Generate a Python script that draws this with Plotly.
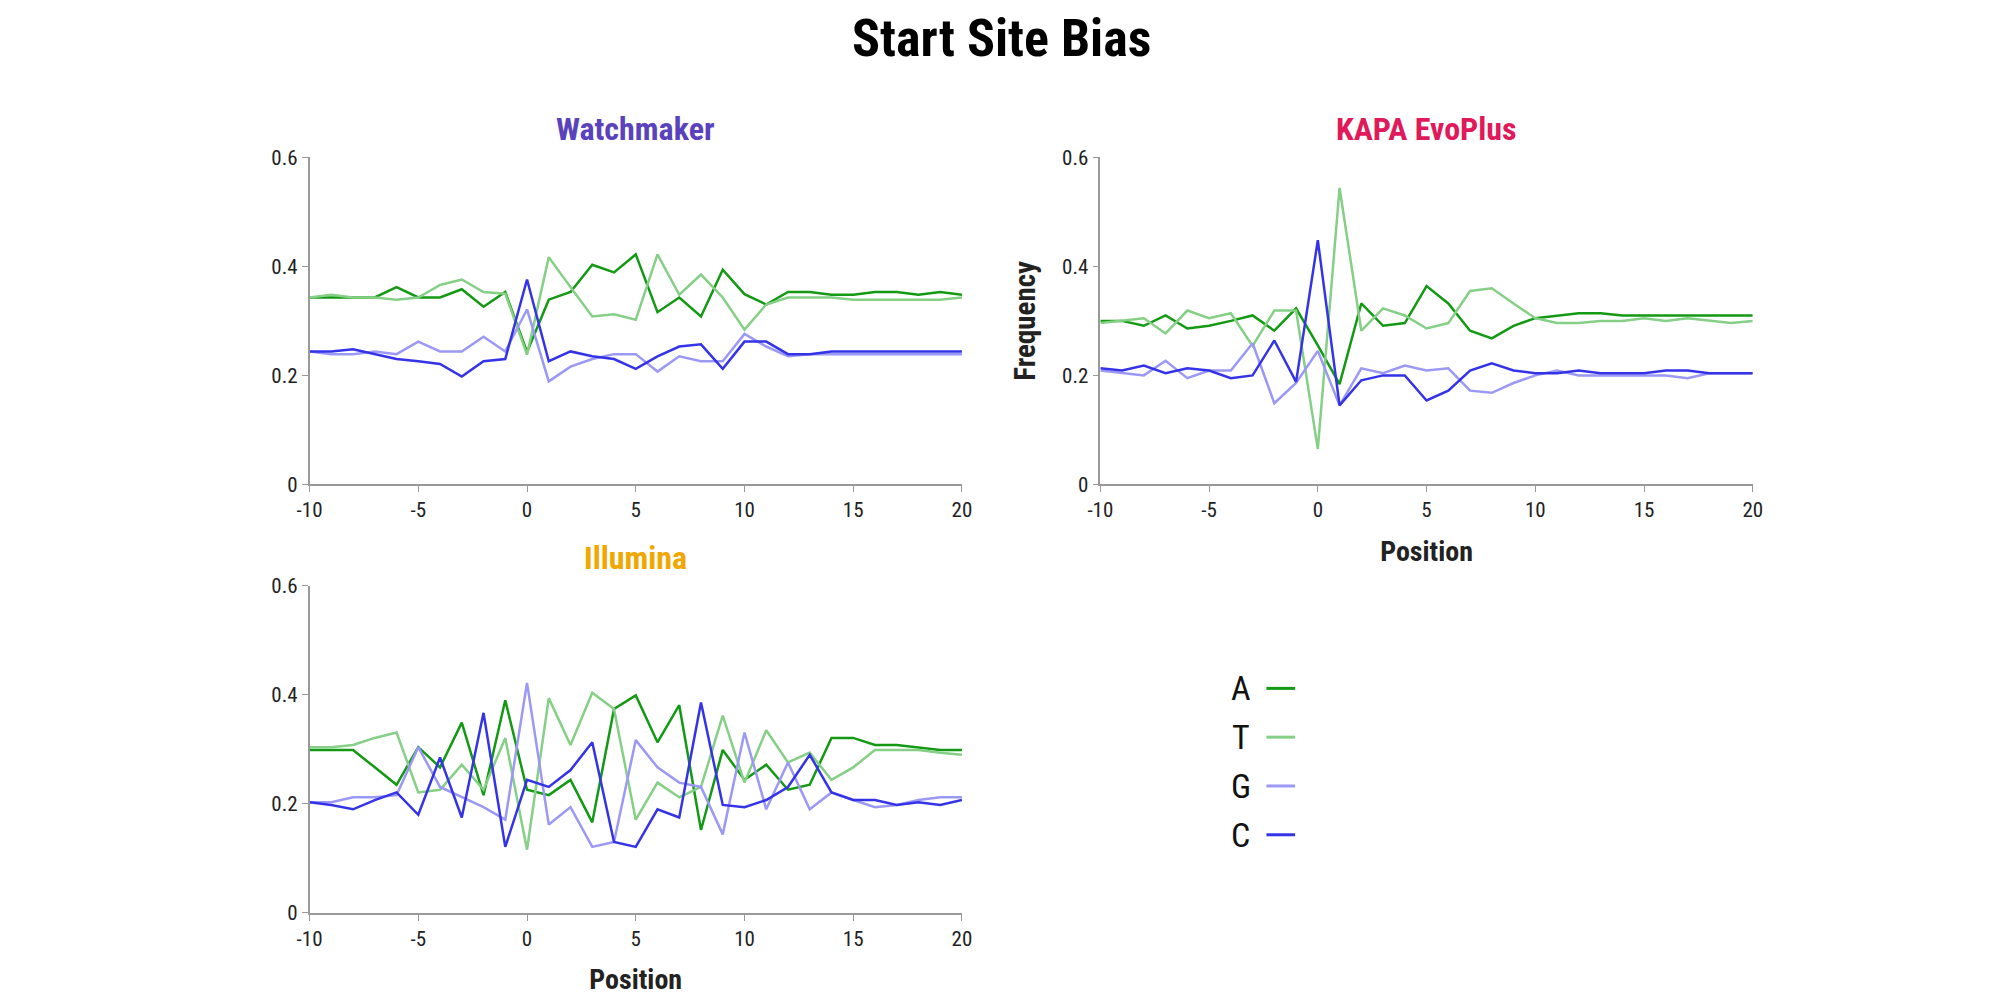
import plotly.graph_objects as go

positions = list(range(-10, 21))
bases = ["A", "T", "G", "C"]
base_colors = ["#139913", "#86cf86", "#9b99f5", "#3533e8"]

panel_names = ["Watchmaker", "KAPA EvoPlus", "Illumina"]
panel_colors = ["#5a42bd", "#e0195a", "#f0a800"]

x_tick_values = [-10, -5, 0, 5, 10, 15, 20]
x_tick_labels = ["-10", "-5", "0", "5", "10", "15", "20"]
y_tick_values = [0, 0.2, 0.4, 0.6]
y_tick_labels = ["0", "0.2", "0.4", "0.6"]

watchmaker_A = [0.343, 0.343, 0.343, 0.343, 0.362, 0.343, 0.343, 0.358, 0.326, 0.353,
                0.243, 0.339, 0.353, 0.403, 0.389, 0.422, 0.316, 0.343, 0.308, 0.394,
                0.349, 0.330, 0.353, 0.353, 0.348, 0.348, 0.353, 0.353, 0.348, 0.353, 0.348]
watchmaker_T = [0.343, 0.348, 0.343, 0.343, 0.339, 0.343, 0.366, 0.376, 0.353, 0.350,
                0.238, 0.417, 0.362, 0.308, 0.312, 0.302, 0.422, 0.348, 0.385, 0.343,
                0.284, 0.330, 0.343, 0.343, 0.343, 0.339, 0.339, 0.339, 0.339, 0.339, 0.343]
watchmaker_G = [0.244, 0.239, 0.239, 0.244, 0.239, 0.262, 0.244, 0.244, 0.271, 0.244,
                0.321, 0.189, 0.216, 0.230, 0.239, 0.239, 0.207, 0.235, 0.226, 0.226,
                0.276, 0.253, 0.235, 0.239, 0.239, 0.239, 0.239, 0.239, 0.239, 0.239, 0.239]
watchmaker_C = [0.244, 0.244, 0.248, 0.239, 0.230, 0.226, 0.221, 0.198, 0.226, 0.230,
                0.376, 0.226, 0.244, 0.235, 0.230, 0.212, 0.235, 0.253, 0.257, 0.212,
                0.262, 0.262, 0.239, 0.239, 0.244, 0.244, 0.244, 0.244, 0.244, 0.244, 0.244]

kapa_A = [0.300, 0.300, 0.291, 0.310, 0.286, 0.291, 0.300, 0.310, 0.282, 0.323,
          0.255, 0.184, 0.332, 0.291, 0.296, 0.364, 0.332, 0.282, 0.268, 0.291,
          0.305, 0.310, 0.314, 0.314, 0.310, 0.310, 0.310, 0.310, 0.310, 0.310, 0.310]
kapa_T = [0.296, 0.300, 0.305, 0.277, 0.319, 0.305, 0.314, 0.254, 0.319, 0.319,
          0.065, 0.544, 0.282, 0.323, 0.310, 0.286, 0.296, 0.355, 0.360, 0.332,
          0.305, 0.296, 0.296, 0.300, 0.300, 0.305, 0.300, 0.305, 0.300, 0.296, 0.300]
kapa_G = [0.209, 0.204, 0.200, 0.227, 0.195, 0.209, 0.209, 0.259, 0.149, 0.186,
          0.245, 0.145, 0.213, 0.204, 0.218, 0.209, 0.213, 0.172, 0.168, 0.186,
          0.200, 0.209, 0.200, 0.200, 0.200, 0.200, 0.200, 0.195, 0.204, 0.204, 0.204]
kapa_C = [0.213, 0.209, 0.218, 0.204, 0.213, 0.209, 0.195, 0.200, 0.264, 0.188,
          0.448, 0.145, 0.191, 0.200, 0.200, 0.154, 0.172, 0.209, 0.222, 0.209,
          0.204, 0.204, 0.209, 0.204, 0.204, 0.204, 0.209, 0.209, 0.204, 0.204, 0.204]

illumina_A = [0.299, 0.299, 0.299, 0.267, 0.235, 0.304, 0.267, 0.349, 0.216, 0.390,
              0.226, 0.216, 0.244, 0.166, 0.374, 0.399, 0.313, 0.381, 0.152, 0.299,
              0.244, 0.272, 0.226, 0.235, 0.321, 0.321, 0.308, 0.308, 0.304, 0.299, 0.299]
illumina_T = [0.304, 0.304, 0.308, 0.321, 0.331, 0.221, 0.226, 0.272, 0.226, 0.321,
              0.116, 0.394, 0.308, 0.404, 0.374, 0.171, 0.239, 0.212, 0.231, 0.362,
              0.239, 0.335, 0.276, 0.294, 0.244, 0.267, 0.299, 0.299, 0.299, 0.294, 0.290]
illumina_G = [0.203, 0.203, 0.212, 0.212, 0.216, 0.304, 0.231, 0.212, 0.194, 0.171,
              0.422, 0.162, 0.194, 0.121, 0.130, 0.317, 0.267, 0.239, 0.231, 0.144,
              0.331, 0.190, 0.276, 0.190, 0.221, 0.207, 0.194, 0.198, 0.207, 0.212, 0.212]
illumina_C = [0.203, 0.198, 0.190, 0.207, 0.221, 0.180, 0.285, 0.175, 0.367, 0.121,
              0.244, 0.231, 0.262, 0.313, 0.130, 0.121, 0.190, 0.175, 0.386, 0.198,
              0.194, 0.207, 0.231, 0.290, 0.221, 0.207, 0.207, 0.198, 0.203, 0.198, 0.207]

panel_data = [
    [watchmaker_A, watchmaker_T, watchmaker_G, watchmaker_C],
    [kapa_A, kapa_T, kapa_G, kapa_C],
    [illumina_A, illumina_T, illumina_G, illumina_C],
]

FONT = "Roboto Condensed, Liberation Sans Narrow, Roboto, sans-serif"

x_domains = [[0.15, 0.48], [0.55, 0.88], [0.15, 0.48]]
y_domains = [[0.516, 0.851], [0.516, 0.851], [0.077, 0.412]]
x_titles = ["", "Position", "Position"]
y_titles = ["", "Frequency", ""]

fig = go.Figure()

for p, series in enumerate(panel_data):
    suffix = "" if p == 0 else str(p + 1)
    for b, vals in enumerate(series):
        fig.add_trace(go.Scatter(
            x=positions, y=vals, mode="lines",
            name=bases[b], showlegend=False,
            line=dict(color=base_colors[b], width=2.5),
            xaxis="x" + suffix, yaxis="y" + suffix,
        ))

layout = dict(
    width=2000, height=1000,
    margin=dict(l=0, r=0, t=0, b=0),
    paper_bgcolor="white", plot_bgcolor="white",
    font=dict(family=FONT, color="#222222", size=21),
    showlegend=False,
)

axis_common = dict(
    showgrid=False, zeroline=False, showline=True,
    linecolor="#999999", linewidth=1.5,
    ticks="outside", ticklen=6, tickcolor="#999999", tickwidth=1.2,
    tickfont=dict(family=FONT, size=21, color="#222222"),
)

for p in range(3):
    key = "" if p == 0 else str(p + 1)
    xa = dict(axis_common, domain=x_domains[p], range=[-10, 20],
              tickmode="array", tickvals=x_tick_values, ticktext=x_tick_labels,
              anchor="y" + key)
    if x_titles[p]:
        xa["title"] = dict(text="<b>" + x_titles[p] + "</b>", standoff=20,
                           font=dict(family=FONT, size=28, color="#222222"))
    ya = dict(axis_common, domain=y_domains[p], range=[0, 0.6],
              tickmode="array", tickvals=y_tick_values, ticktext=y_tick_labels,
              anchor="x" + key)
    if y_titles[p]:
        ya["title"] = dict(text="<b>" + y_titles[p] + "</b>", standoff=18,
                           font=dict(family=FONT, size=29, color="#222222"))
    layout["xaxis" + key] = xa
    layout["yaxis" + key] = ya

annotations = [dict(
    text="<b>Start Site Bias</b>", x=0.5, y=0.973, xref="paper", yref="paper",
    xanchor="center", yanchor="middle", showarrow=False,
    font=dict(family=FONT, size=52, color="#000000"),
)]
for p in range(3):
    annotations.append(dict(
        text="<b>" + panel_names[p] + "</b>",
        x=(x_domains[p][0] + x_domains[p][1]) / 2, y=y_domains[p][1] + 0.029,
        xref="paper", yref="paper", xanchor="center", yanchor="middle",
        showarrow=False, font=dict(family=FONT, size=32, color=panel_colors[p]),
    ))

shapes = []
legend_y0 = 0.307
legend_step = 0.05
for b, name in enumerate(bases):
    yy = legend_y0 - b * legend_step
    annotations.append(dict(
        text=name, x=0.621, y=yy, xref="paper", yref="paper",
        xanchor="center", yanchor="middle", showarrow=False,
        font=dict(family=FONT, size=34, color="#111111"),
    ))
    shapes.append(dict(
        type="line", xref="paper", yref="paper",
        x0=0.634, x1=0.6485, y0=yy, y1=yy,
        line=dict(color=base_colors[b], width=3),
    ))

layout["annotations"] = annotations
layout["shapes"] = shapes
fig.update_layout(**layout)

fig.write_html("out.html",
               config={"displayModeBar": False},
               post_script="document.body.style.margin='0px';document.body.style.overflow='hidden';")
